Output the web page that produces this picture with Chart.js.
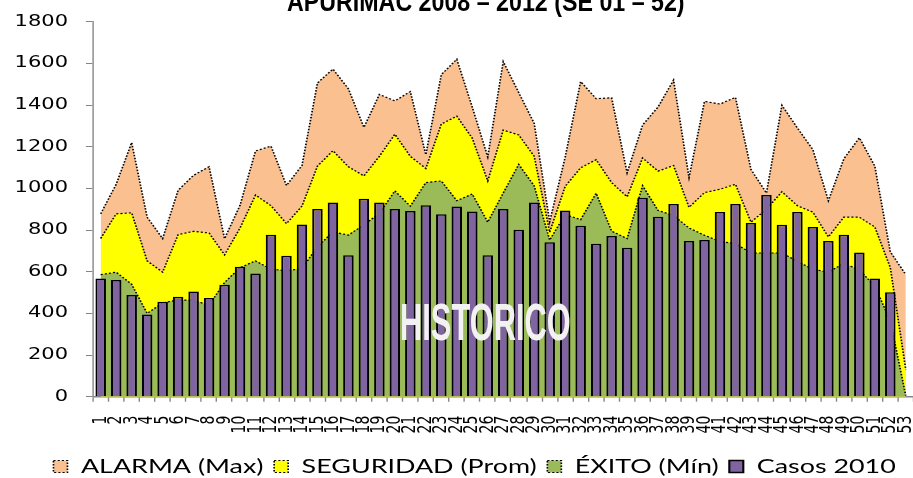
<!DOCTYPE html>
<html>
<head>
<meta charset="utf-8">
<script src="https://cdn.jsdelivr.net/npm/chart.js@4/dist/chart.umd.min.js"></script>
<style>
html,body{margin:0;padding:0;background:#fff;width:913px;height:478px;overflow:hidden;}
#wrap{position:relative;width:913px;height:478px;overflow:hidden;background:#fff;}
canvas{display:block;}
</style>
</head>
<body>
<div id="wrap"><canvas id="c" width="678" height="478"></canvas></div>
<script>
// ---- data ----
const weeks = ['1','2','3','4','5','6','7','8','9','10','11','12','13','14','15','16','17','18','19','20',
  '21','22','23','24','25','26','27','28','29','30','31','32','33','34','35','36','37','38','39','40',
  '41','42','43','44','45','46','47','48','49','50','51','52','53'];

const alarmaMax = [878,1020,1220,862,759,991,1063,1104,759,919,1180,1203,1014,1110,1506,1573,1478,1293,1451,1420,
  1465,1162,1546,1620,1390,1151,1609,1460,1312,840,1150,1513,1431,1435,1075,1304,1391,1520,1052,1418,
  1405,1437,1091,978,1399,1290,1186,941,1142,1243,1107,696,586];

const seguridadProm = [760,878,883,652,598,778,794,786,681,810,968,917,831,915,1107,1181,1104,1060,1154,1260,
  1154,1096,1309,1347,1241,1036,1280,1257,1154,790,1010,1099,1138,1028,960,1146,1083,1110,909,980,
  996,1020,838,900,984,917,886,767,862,862,815,620,130];

const exitoMin = [586,598,540,400,450,465,462,440,548,620,652,612,605,615,720,791,776,825,880,988,
  915,1028,1036,941,973,838,978,1115,1012,752,875,850,977,795,759,1013,894,870,810,775,
  745,735,690,690,690,650,612,598,640,610,530,365,5];

const casos2010 = [567,560,488,395,456,480,505,474,538,624,592,777,677,827,901,932,679,951,932,901,
  891,919,876,913,889,679,901,802,932,742,894,821,734,771,715,955,864,925,747,752,
  887,925,834,968,826,887,815,747,778,692,567,501];

const seriesNames = ['ALARMA (Max)', 'SEGURIDAD (Prom)', '\u00c9XITO (M\u00edn)', 'Casos 2010'];
const titleText = 'APURIMAC 2008 \u2013 2012 (SE 01 \u2013 52)';
const watermarkText = 'HISTORICO';
const yMin = 0, yMax = 1800, yStep = 200;

// ---- the reference is horizontally stretched: draw in a narrower space, stretch by SX ----
const SX = 1.4;
const W = 678, H = 478;

function drawFitted(ctx, text, font, color, cx, baseline, width) {
  ctx.save();
  ctx.font = font;
  const w = ctx.measureText(text).width;
  ctx.translate(cx, baseline);
  ctx.scale(width / w, 1);
  ctx.fillStyle = color;
  ctx.textAlign = 'center';
  ctx.textBaseline = 'alphabetic';
  ctx.fillText(text, 0, 0);
  ctx.restore();
}

const stretchPlugin = {
  id: 'stretch',
  beforeDraw(chart) {
    const ctx = chart.ctx;
    ctx.save();
    ctx.setTransform(SX, 0, 0, 1, 0, 0);
  },
  afterDraw(chart) {
    const ctx = chart.ctx;
    drawFitted(ctx, watermarkText, 'bold 52px "Liberation Sans Narrow", "Liberation Sans", sans-serif', '#F2F2F2', 346.7, 340, 122);
    drawFitted(ctx, titleText, 'bold 28px "Liberation Sans Narrow", "Liberation Sans", sans-serif', '#000000', 347, 10.5, 284);
    ctx.restore();
  }
};

const dotted = [1.5, 1.5];

const chart = new Chart(document.getElementById('c'), {
  type: 'bar',
  data: {
    labels: weeks,
    datasets: [
      { type: 'line', label: seriesNames[0], data: alarmaMax, order: 4, yAxisID: 'y',
        backgroundColor: '#FAC090', borderColor: '#000000', borderWidth: 1.2, borderDash: dotted,
        fill: 'origin', pointRadius: 0, tension: 0 },
      { type: 'line', label: seriesNames[1], data: seguridadProm, order: 3, yAxisID: 'y',
        backgroundColor: '#FFFF00', borderColor: '#000000', borderWidth: 1.2, borderDash: dotted,
        fill: 'origin', pointRadius: 0, tension: 0 },
      { type: 'line', label: seriesNames[2], data: exitoMin, order: 2, yAxisID: 'y',
        backgroundColor: '#9BBB59', borderColor: '#000000', borderWidth: 1.2, borderDash: dotted,
        fill: 'origin', pointRadius: 0, tension: 0 },
      { type: 'bar', label: seriesNames[3], data: casos2010, order: 1, yAxisID: 'y',
        backgroundColor: '#8064A2', borderColor: '#000000', borderWidth: 1.5,
        barPercentage: 0.68, categoryPercentage: 1.0 }
    ]
  },
  options: {
    responsive: false,
    animation: false,
    devicePixelRatio: 1,
    events: [],
    layout: { padding: { left: 0, right: 0, top: 16.7, bottom: 0 } },
    plugins: {
      title: { display: false },
      tooltip: { enabled: false },
      legend: {
        display: true,
        position: 'bottom',
        maxHeight: 28.7,
        labels: {
          sort: (a, b) => a.datasetIndex - b.datasetIndex,
          color: '#000000',
          font: { family: 'Lato', size: 19.2 },
          boxWidth: 10,
          boxHeight: 12,
          padding: 7.6
        }
      }
    },
    scales: {
      x: {
        grid: { display: true, drawOnChartArea: false, drawTicks: true, tickLength: 5, color: '#868686', lineWidth: 1 },
        border: { display: true, color: '#868686', width: 1.5 },
        ticks: { autoSkip: false, minRotation: 90, maxRotation: 90, padding: 14, color: '#000000',
                 font: { family: 'DejaVu Sans', size: 14 } },
        afterFit: (s) => { s.height = 52.6; }
      },
      y: {
        position: 'left',
        min: yMin, max: yMax,
        grid: { display: true, drawOnChartArea: false, drawTicks: true, tickLength: 5, color: '#868686', lineWidth: 1 },
        border: { display: true, color: '#868686', width: 1 },
        ticks: { stepSize: yStep, padding: 12.8, color: '#000000', font: { family: 'DejaVu Sans', size: 15 },
                 callback: (v) => String(v) },
        afterFit: (s) => { s.width = 66.4; }
      },
      yRight: {
        type: 'linear',
        position: 'right',
        display: true,
        grid: { display: false },
        border: { display: false },
        ticks: { display: false },
        afterFit: (s) => { s.width = 22.3; }
      }
    }
  },
  plugins: [stretchPlugin]
});

// stretch the drawing horizontally
const cv = chart.canvas;
const physW = Math.round(W * SX);
cv.width = physW;
cv.style.width = physW + 'px';
cv.style.height = H + 'px';
chart.draw();
</script>
</body>
</html>
